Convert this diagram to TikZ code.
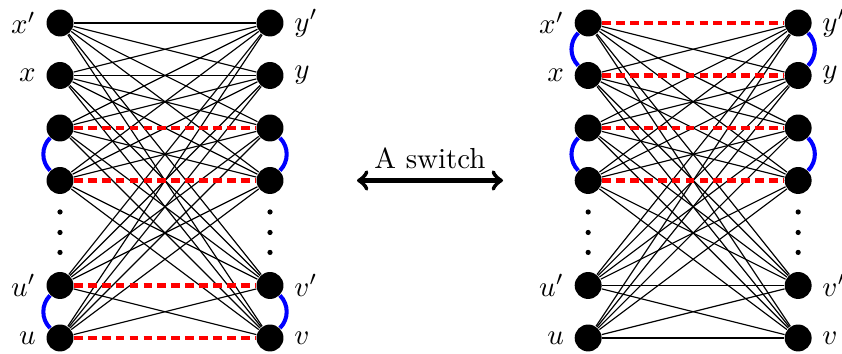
\documentclass[tikz,border=0pt]{standalone}
\usepackage{amsmath}
\usepackage{amssymb}
\usetikzlibrary{arrows}
\tikzset{
  vert/.style={circle, fill=black, inner sep=0pt, minimum size=9.3pt},
  nonedge/.style={red, line width=1.4pt, dash pattern=on 3pt off 1.8pt},
  pairarc/.style={blue, line width=1.4pt},
}

\begin{document}
\begin{tikzpicture}[x=0.637cm, y=0.637cm]
  \useasboundingbox (-1.143,0.438) rectangle (14.895,-6.305);
  % Define the offset of the second graph
  \def\shift{10.06}

  % Draw the vertices with labels
  \foreach \n/\y/\l/\r in {1/0/x'/y', 2/-1/x/y, 5/-5/u'/v', 6/-6/u/v} {
    \node[vert, label=left:{$\l$}] (a\n) at (0,\y) {};
    \node[vert, label=right:{$\r$}] (b\n) at (4,\y) {};
    \node[vert, label=left:{$\l$}] (c\n) at (\shift,\y) {};
    \node[vert, label=right:{$\r$}] (d\n) at (\shift+4,\y) {};
  }
  \foreach \n/\y in {3/-2, 4/-3} {
    \node[vert] (a\n) at (0,\y) {};
    \node[vert] (b\n) at (4,\y) {};
    \node[vert] (c\n) at (\shift,\y) {};
    \node[vert] (d\n) at (\shift+4,\y) {};
  }

  % Draw the vertical dots
  \foreach \x in {0,4,\shift,\shift+4} {
    \foreach \y in {-3.6,-3.99,-4.37} {
      \fill (\x,\y) circle (0.9pt);
    }
  }

  % Draw the crossing edges
  \foreach \i in {1,...,6} {
    \foreach \j in {1,...,6} {
      \ifnum\i=\j
      \else
        \draw (a\i) -- (b\j);
        \draw (c\i) -- (d\j);
      \fi
    }
  }

  % Draw the straight edges and the non-edges
  \foreach \i in {1,2} \draw (a\i) -- (b\i);
  \foreach \i in {3,...,6} \draw[nonedge] (a\i) -- (b\i);
  \foreach \i in {1,...,4} \draw[nonedge] (c\i) -- (d\i);
  \foreach \i in {5,6} \draw (c\i) -- (d\i);

  % Draw the pairing arcs
  \draw[pairarc] (a3) to[bend right=45] (a4);
  \draw[pairarc] (a5) to[bend right=45] (a6);
  \draw[pairarc] (b3) to[bend left=45] (b4);
  \draw[pairarc] (b5) to[bend left=45] (b6);
  \draw[pairarc] (c1) to[bend right=45] (c2);
  \draw[pairarc] (c3) to[bend right=45] (c4);
  \draw[pairarc] (d1) to[bend left=45] (d2);
  \draw[pairarc] (d3) to[bend left=45] (d4);

  % Draw the switch arrow
  \coordinate (swl) at (5.657,-3);
  \coordinate (swr) at (8.438,-3);
  \draw[<->, line width=1.5pt] (swl) -- node[above] {A switch} (swr);

\end{tikzpicture}
\end{document}
